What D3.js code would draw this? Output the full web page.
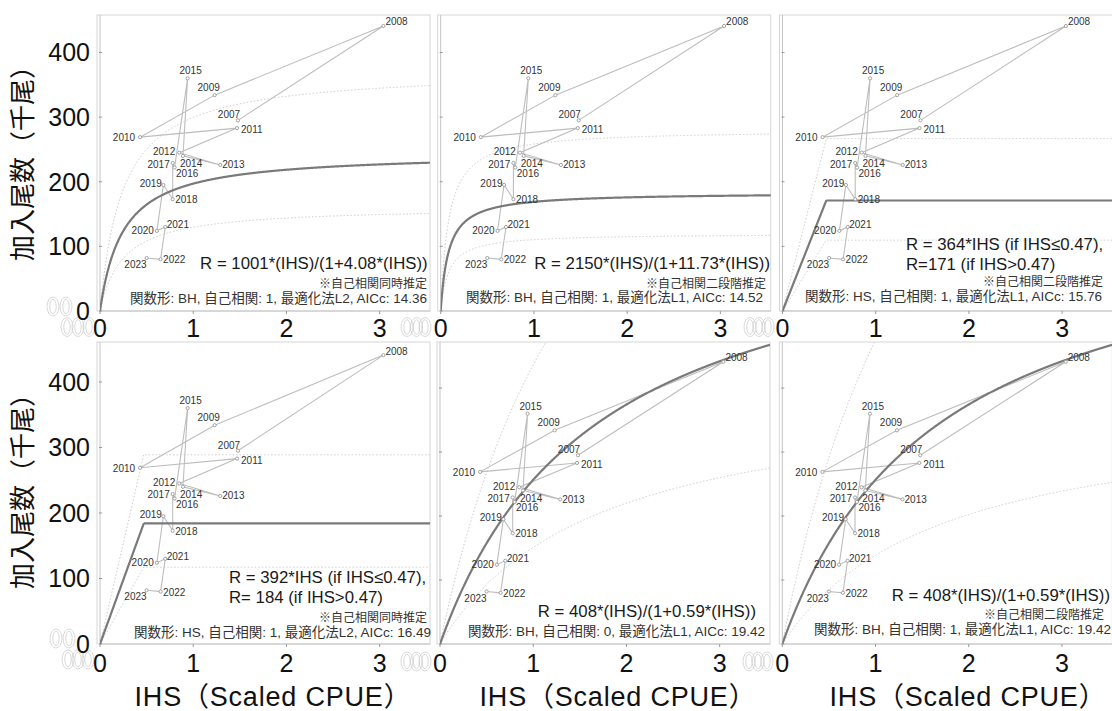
<!DOCTYPE html>
<html>
<head>
<meta charset="utf-8">
<script src="https://cdn.jsdelivr.net/npm/d3@7"></script>
<style>
  html, body { margin: 0; padding: 0; background: #fff; }
  svg { display: block; }
</style>
</head>
<body>
<div id="chart"></div>
<script>
// ---------------- DATA ----------------
const years    = [2007, 2008, 2009, 2010, 2011, 2012, 2013, 2014, 2015, 2016, 2017, 2018, 2019, 2020, 2021, 2022, 2023];
const ihs      = [1.48, 3.04, 1.23, 0.43, 1.47, 0.85, 1.29, 0.89, 0.94, 0.80, 0.78, 0.78, 0.68, 0.61, 0.70, 0.65, 0.50];
const recruits = [295, 441, 334, 269, 283, 245, 226, 240, 360, 222, 229, 173, 195, 124, 130, 80, 82];

const modelType  = ["BH", "BH", "HS", "HS", "BH", "BH"];
const paramA     = [1001, 2150, 364, 392, 408, 408];
const paramB     = [4.08, 11.73, 0.47, 0.47, 0.59, 0.59];   // BH: b, HS: breakpoint
const hsPlateau  = [null, null, 171, 184, null, null];
const bandFactor = [1.52, 1.53, 1.56, 1.57, 1.70, 1.85];
const yMax       = [458, 458, 458, 461, 472, 472];

const eqLines = [
  ["R = 1001*(IHS)/(1+4.08*(IHS))"],
  ["R = 2150*(IHS)/(1+11.73*(IHS))"],
  ["R = 364*IHS (if IHS≤0.47),", "R=171 (if IHS>0.47)"],
  ["R = 392*IHS (if IHS≤0.47),", "R= 184 (if IHS>0.47)"],
  ["R = 408*(IHS)/(1+0.59*(IHS))"],
  ["R = 408*(IHS)/(1+0.59*(IHS))"]
];
const noteText = ["※自己相関同時推定", "※自己相関二段階推定", "※自己相関二段階推定", "※自己相関同時推定", "", "※自己相関二段階推定"];
const statText = [
  "関数形: BH, 自己相関: 1, 最適化法L2, AICc: 14.36",
  "関数形: BH, 自己相関: 1, 最適化法L1, AICc: 14.52",
  "関数形: HS, 自己相関: 1, 最適化法L1, AICc: 15.76",
  "関数形: HS, 自己相関: 1, 最適化法L2, AICc: 16.49",
  "関数形: BH, 自己相関: 0, 最適化法L1, AICc: 19.42",
  "関数形: BH, 自己相関: 1, 最適化法L1, AICc: 19.42"
];
const xTicks = [0, 1, 2, 3];
const yTicks = [0, 100, 200, 300, 400];
const yTitle = "加入尾数（千尾）";
const xTitle = "IHS（Scaled CPUE）";

// ---------------- LAYOUT / STYLE ----------------
const W = 1112, H = 711;
const plotW = 330, xMax = 3.54;
const panels = [
  {x0: 100,   y0: 311, top: 15,  eqX: 427.7, eqY: 268.5, eqAnchor: "end",   noteX: 427, noteY: 287.5, statX: 427,  statY: 303},
  {x0: 440.7, y0: 311, top: 15,  eqX: 770,   eqY: 269,   eqAnchor: "end",   noteX: 766, noteY: 287.5, statX: 763,  statY: 302},
  {x0: 782.5, y0: 311, top: 15,  eqX: 906,   eqY: 250,   eqAnchor: "start", noteX: 1103, noteY: 286, statX: 1102, statY: 300.5},
  {x0: 100,   y0: 644, top: 342, eqX: 229,   eqY: 583,   eqAnchor: "start", noteX: 427, noteY: 622, statX: 431,  statY: 636.5},
  {x0: 440,   y0: 644, top: 342, eqX: 756,   eqY: 616.5, eqAnchor: "end",   noteX: 0,   noteY: 0,     statX: 765,  statY: 636},
  {x0: 782.3, y0: 644, top: 342, eqX: 1110,  eqY: 601,   eqAnchor: "end",   noteX: 1104, noteY: 619, statX: 1111, statY: 633.5}
];
const xTitleCenters = [273, 618, 968];
// label placement per year: [anchor, dx, dy]
const labelPlace = {
  2007: ["middle", -9, -2], 2008: ["start", 2, -0.5], 2009: ["middle", -6, -4.5],
  2010: ["end", -5, 4], 2011: ["start", 4, 5], 2012: ["end", -4, 2.5],
  2013: ["start", 2, 3.5], 2014: ["start", -3, 11.5], 2015: ["middle", 3, -4],
  2016: ["start", 1.5, 9], 2017: ["end", -3, 4.5], 2018: ["start", 2.5, 4],
  2019: ["end", -1.5, 2], 2020: ["end", -3, 3.5], 2021: ["start", 1.5, 1.5],
  2022: ["start", 2.5, 4], 2023: ["end", 0, 10]
};
// hollow "0" artifacts (drawn as outlined ellipses): centre x list, centre y
const ghostRows = [
  {cx: [53, 66], cy: 306.5}, {cx: [67, 78, 89], cy: 327},
  {cx: [407, 416.5, 425], cy: 327}, {cx: [750, 759, 768], cy: 327},
  {cx: [56, 69], cy: 638.5}, {cx: [68, 78, 88], cy: 659.5},
  {cx: [407, 416.5, 425], cy: 661.5}, {cx: [749, 758, 767], cy: 661.5}
];
const latinFont = "'Liberation Sans', Arial, 'Noto Sans CJK JP', sans-serif";
const cjkFont = "'Noto Sans CJK JP', 'Noto Sans', sans-serif";

const svg = d3.select("#chart").append("svg")
  .attr("width", W).attr("height", H)
  .attr("viewBox", `0 0 ${W} ${H}`);
svg.append("rect").attr("width", W).attr("height", H).attr("fill", "#fff");
const defs = svg.append("defs");

const pts = years.map((y, i) => ({year: y, x: ihs[i], r: recruits[i]}));

function model(i, x) {
  if (modelType[i] === "BH") return paramA[i] * x / (1 + paramB[i] * x);
  return x <= paramB[i] ? paramA[i] * x : hsPlateau[i];
}

// ghost artifacts (behind everything)
ghostRows.forEach(row => {
  row.cx.forEach(cx => {
    svg.append("ellipse").attr("cx", cx).attr("cy", row.cy).attr("rx", 6).attr("ry", 9.5)
      .attr("fill", "none").attr("stroke", "#cfcfcf").attr("stroke-width", 0.8);
    svg.append("ellipse").attr("cx", cx).attr("cy", row.cy).attr("rx", 3.2).attr("ry", 7.3)
      .attr("fill", "none").attr("stroke", "#cfcfcf").attr("stroke-width", 0.8);
  });
});

panels.forEach((p, i) => {
  const xs = d3.scaleLinear().domain([0, xMax]).range([p.x0, p.x0 + plotW]);
  const ys = d3.scaleLinear().domain([0, yMax[i]]).range([p.y0, p.top]);
  const g = svg.append("g").attr("class", "panel");
  const clipId = "clip" + i;
  defs.append("clipPath").attr("id", clipId).append("rect")
    .attr("x", p.x0).attr("y", p.top).attr("width", Math.min(plotW, W - p.x0)).attr("height", p.y0 - p.top);

  // frame
  g.append("rect").attr("x", p.x0 - 3).attr("y", p.top).attr("width", plotW + 3).attr("height", p.y0 - p.top)
    .attr("fill", "none").attr("stroke", "#d6d6d6").attr("stroke-width", 1);
  g.append("line").attr("x1", p.x0).attr("x2", p.x0).attr("y1", p.top).attr("y2", p.y0)
    .attr("stroke", "#c4c4c4");
  g.append("line").attr("x1", p.x0).attr("x2", p.x0 + plotW).attr("y1", p.y0).attr("y2", p.y0)
    .attr("stroke", "#c4c4c4");

  // ticks
  g.selectAll(".yt").data(yTicks).join("line")
    .attr("x1", p.x0 - 1).attr("x2", p.x0 + 2)
    .attr("y1", d => ys(d)).attr("y2", d => ys(d)).attr("stroke", "#999");
  g.selectAll(".xt").data(xTicks).join("line")
    .attr("x1", d => xs(d)).attr("x2", d => xs(d))
    .attr("y1", p.y0).attr("y2", p.y0 + 3).attr("stroke", "#999");

  // x tick labels
  g.selectAll(".xl").data(xTicks).join("text")
    .attr("x", d => xs(d)).attr("y", p.y0 + (i < 3 ? 26 : 28))
    .attr("text-anchor", "middle").attr("font-family", latinFont).attr("font-size", 25)
    .attr("fill", "#111").text(d => d);

  // y tick labels (left column only)
  if (i % 3 === 0) {
    g.selectAll(".yl").data(yTicks).join("text")
      .attr("x", 90).attr("y", d => ys(d) + 9)
      .attr("text-anchor", "end").attr("font-family", latinFont).attr("font-size", 25)
      .attr("fill", "#111").text(d => d);
  }

  const cg = g.append("g").attr("clip-path", `url(#${clipId})`);
  const samples = d3.range(0, 3.6, 0.005);
  if (modelType[i] === "HS") { samples.push(paramB[i]); samples.sort((a, b) => a - b); }
  const lineGen = f => d3.line().x(d => xs(d)).y(d => ys(f(d)))(samples);

  // bands
  cg.append("path").attr("d", lineGen(x => model(i, x) * bandFactor[i]))
    .attr("fill", "none").attr("stroke", "#c9c9c9").attr("stroke-width", 1).attr("stroke-dasharray", "1.5,2");
  cg.append("path").attr("d", lineGen(x => model(i, x) / bandFactor[i]))
    .attr("fill", "none").attr("stroke", "#c9c9c9").attr("stroke-width", 1).attr("stroke-dasharray", "1.5,2");

  // trajectory
  cg.append("path").datum(pts)
    .attr("d", d3.line().x(d => xs(d.x)).y(d => ys(d.r)))
    .attr("fill", "none").attr("stroke", "#bdbdbd").attr("stroke-width", 1.1);

  // fitted curve
  cg.append("path").attr("d", lineGen(x => model(i, x)))
    .attr("fill", "none").attr("stroke", "#7a7a7a").attr("stroke-width", 2.2);

  // points
  cg.selectAll(".pt").data(pts).join("circle")
    .attr("cx", d => xs(d.x)).attr("cy", d => ys(d.r)).attr("r", 1.6)
    .attr("fill", "#fff").attr("stroke", "#9a9a9a").attr("stroke-width", 0.9);

  // labels
  cg.selectAll(".lb").data(pts).join("text")
    .attr("x", d => xs(d.x) + labelPlace[d.year][1])
    .attr("y", d => ys(d.r) + labelPlace[d.year][2])
    .attr("text-anchor", d => labelPlace[d.year][0])
    .attr("font-family", latinFont).attr("font-size", 10).attr("fill", "#333")
    .text(d => d.year);

  // equation
  eqLines[i].forEach((ln, k) => {
    g.append("text").attr("x", p.eqX).attr("y", p.eqY + k * 19.5)
      .attr("text-anchor", p.eqAnchor).attr("font-family", latinFont).attr("font-size", 16.8)
      .attr("fill", "#1a1a1a").text(ln);
  });
  if (noteText[i]) {
    g.append("text").attr("x", p.noteX).attr("y", p.noteY).attr("text-anchor", "end")
      .attr("font-family", cjkFont).attr("font-size", 12).attr("fill", "#333").text(noteText[i]);
  }
  g.append("text").attr("x", p.statX).attr("y", p.statY).attr("text-anchor", "end")
    .attr("font-family", latinFont).attr("font-size", 13.5).attr("fill", "#333").text(statText[i]);
});

// y titles
[157, 485].forEach(cy => {
  svg.append("text").attr("transform", `translate(32,${cy}) rotate(-90)`)
    .attr("text-anchor", "middle").attr("font-family", cjkFont).attr("font-size", 26)
    .attr("fill", "#111").text(yTitle);
});
// x titles
xTitleCenters.forEach(cx => {
  svg.append("text").attr("x", cx).attr("y", 706).attr("text-anchor", "middle")
    .attr("font-family", latinFont).attr("font-size", 27).attr("letter-spacing", 0.8)
    .attr("fill", "#111").text(xTitle);
});
</script>
</body>
</html>
